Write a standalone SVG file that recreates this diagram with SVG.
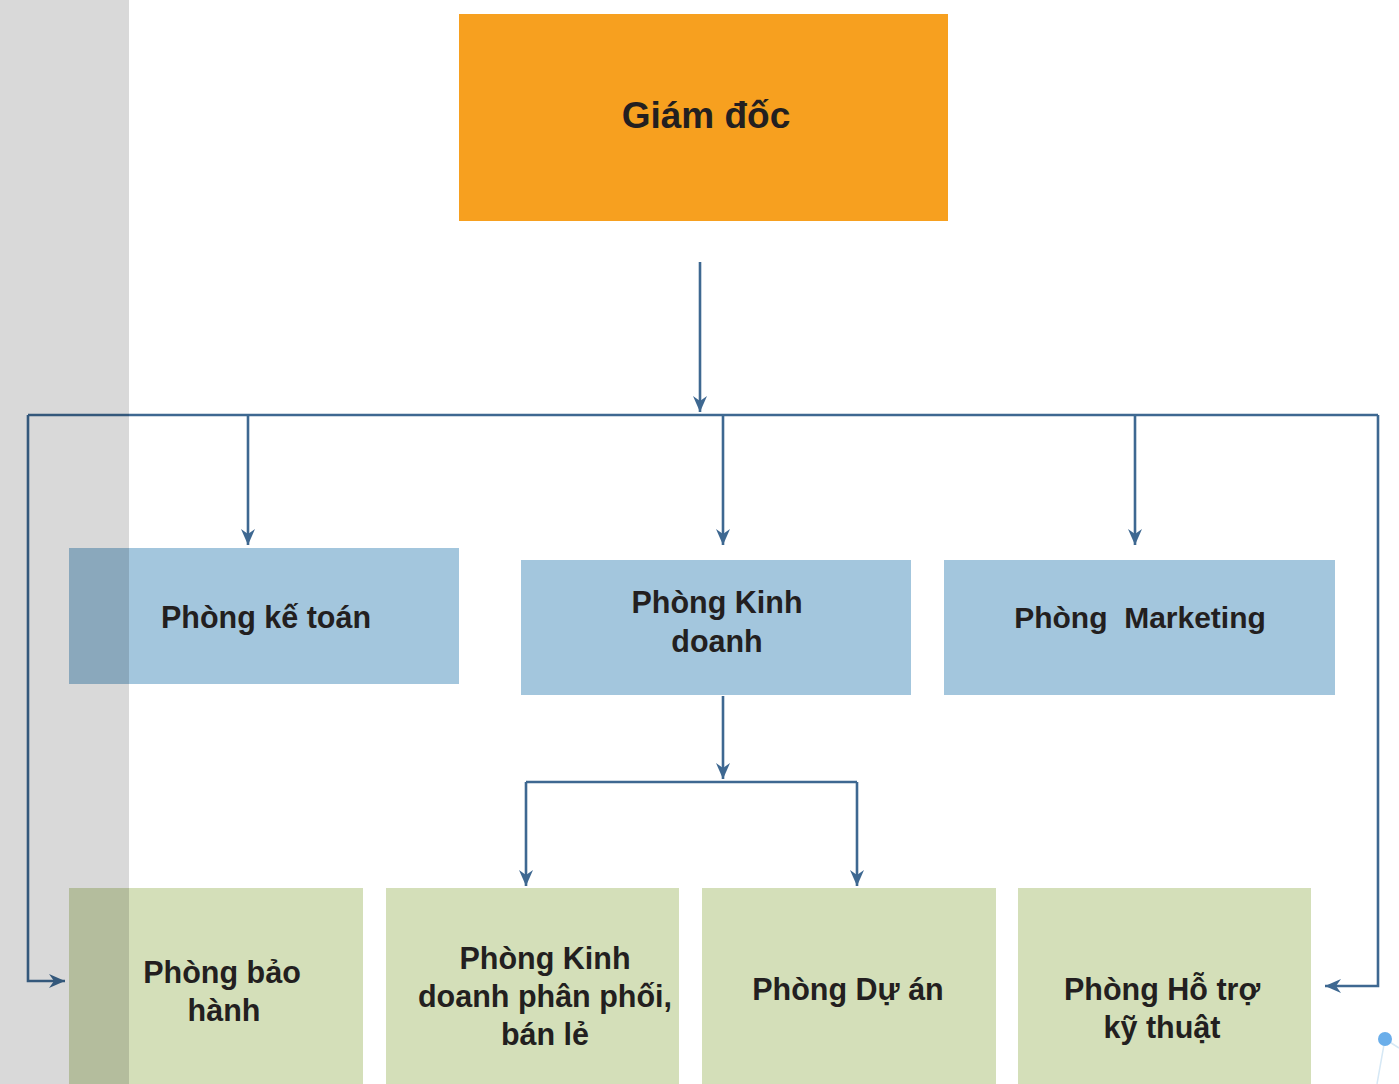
<svg xmlns="http://www.w3.org/2000/svg" width="1399" height="1084" viewBox="0 0 1399 1084">
<defs>
<marker id="ah" viewBox="0 0 16 14" refX="16" refY="7" markerWidth="16" markerHeight="14" markerUnits="userSpaceOnUse" orient="auto">
<path d="M0,0 L16,7 L0,14 L5,7 Z" fill="#3e6891"/>
</marker>
</defs>
<style>
.t{font-family:"Liberation Sans",Arial,sans-serif;font-weight:bold;fill:#231f20;text-anchor:middle;font-size:30.5px}
.c{fill:none;stroke:#3e6891;stroke-width:2.6}
.blue{fill:#a3c6dd}
.green{fill:#d4dfb9}
</style>
<rect x="0" y="0" width="1399" height="1084" fill="#ffffff"/>
<g id="giam-doc"><rect x="459" y="14" width="489" height="207" fill="#f7a01f"/><text class="t" x="706" y="128" style="font-size:37px">Giám đốc</text></g>
<g id="phong-ke-toan"><rect class="blue" x="69" y="548" width="390" height="136"/><text class="t" x="266" y="628">Phòng kế toán</text></g>
<g id="phong-kinh-doanh"><rect class="blue" x="521" y="560" width="390" height="135"/><text class="t" x="717" y="613">Phòng Kinh</text><text class="t" x="717" y="652">doanh</text></g>
<g id="phong-marketing"><rect class="blue" x="944" y="560" width="391" height="135"/><text class="t" x="1140" y="628" xml:space="preserve" style="font-size:30px">Phòng  Marketing</text></g>
<g id="phong-bao-hanh"><rect class="green" x="69" y="888" width="294" height="196"/><text class="t" x="222" y="983">Phòng bảo</text><text class="t" x="224" y="1021">hành</text></g>
<g id="phong-kd-ppbl"><rect class="green" x="386" y="888" width="293" height="196"/><text class="t" x="545" y="969">Phòng Kinh</text><text class="t" x="545" y="1007">doanh phân phối,</text><text class="t" x="545" y="1045">bán lẻ</text></g>
<g id="phong-du-an"><rect class="green" x="702" y="888" width="294" height="196"/><text class="t" x="848" y="1000">Phòng Dự án</text></g>
<g id="phong-ho-tro"><rect class="green" x="1018" y="888" width="293" height="196"/><text class="t" x="1162" y="1000">Phòng Hỗ trợ</text><text class="t" x="1162" y="1038">kỹ thuật</text></g>
<g id="connectors">
<path class="c" d="M700,262 V412" marker-end="url(#ah)"/>
<path class="c" d="M28,415 H1378"/>
<path class="c" d="M248,415 V545" marker-end="url(#ah)"/>
<path class="c" d="M723,415 V545" marker-end="url(#ah)"/>
<path class="c" d="M1135,415 V545" marker-end="url(#ah)"/>
<path class="c" d="M28,415 V981 H65" marker-end="url(#ah)"/>
<path class="c" d="M1378,415 V986 H1325" marker-end="url(#ah)"/>
<path class="c" d="M723,696 V779" marker-end="url(#ah)"/>
<path class="c" d="M526,782 H857"/>
<path class="c" d="M526,782 V886" marker-end="url(#ah)"/>
<path class="c" d="M857,782 V886" marker-end="url(#ah)"/>
</g>
<rect x="0" y="0" width="129" height="1084" fill="#000000" fill-opacity="0.15"/>
<g id="deco">
<path d="M1385,1039 L1399,1048 M1385,1039 L1377,1084" stroke="#d6e8f5" stroke-width="1.5" fill="none"/>
<circle cx="1385" cy="1039" r="7" fill="#6aaeea"/>
</g>
</svg>
